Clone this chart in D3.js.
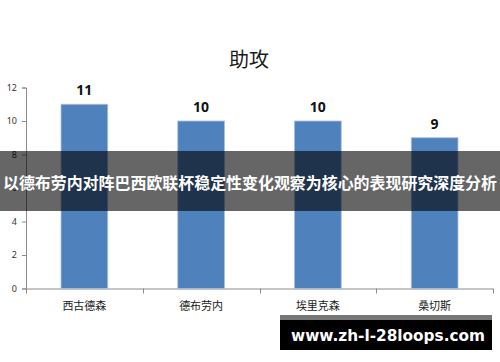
<!DOCTYPE html>
<html>
<head>
<meta charset="utf-8">
<script src="https://cdn.jsdelivr.net/npm/d3@7"></script>
<style>
  html, body { margin: 0; padding: 0; background: #fff; }
  svg { display: block; }
</style>
</head>
<body>
<svg id="chart" width="500" height="362"></svg>
<script>
'use strict';

// Chart values.
const title = '助攻';
const players = ['西古德森', '德布劳内', '埃里克森', '桑切斯'];
const assists = [11, 10, 10, 9];
const yTicks = [0, 2, 4, 6, 8, 10, 12];
const bannerText = '以德布劳内对阵巴西欧联杯稳定性变化观察为核心的表现研究深度分析';
const watermark = 'www.zh-l-28loops.com';

const CJK = '"Noto Sans CJK SC", "Noto Sans", sans-serif';
const NUM = '"Noto Sans", "DejaVu Sans", sans-serif';

const svg = d3.select('#chart');

const plot = {left: 26, right: 493, top: 87.5, bottom: 288.5};

const x = d3
  .scaleBand()
  .domain(players)
  .range([plot.left, plot.right])
  .paddingInner(0.6)
  .paddingOuter(0.3);

// Category boundaries, used for the x axis tick marks.
const step = x.step();
const boundaries = d3.range(players.length + 1).map(i => plot.left + i * step);

const y = d3.scaleLinear().domain([0, 12]).range([plot.bottom, plot.top]);

// Title
svg
  .append('text')
  .attr('x', 249)
  .attr('y', 67)
  .attr('text-anchor', 'middle')
  .style('font-family', CJK)
  .style('font-size', '20px')
  .style('fill', '#1a1a1a')
  .text(title);

// Y axis
const yAxis = svg
  .append('g')
  .attr('transform', `translate(${plot.left},0)`)
  .call(d3.axisLeft(y).tickValues(yTicks).tickSize(4).tickPadding(5));
yAxis.select('.domain').attr('stroke', '#8c8c8c');
yAxis.selectAll('.tick line').attr('stroke', '#8c8c8c');
yAxis
  .selectAll('.tick text')
  .style('font-family', NUM)
  .style('font-size', '9px')
  .style('fill', '#333');

// X axis: line plus ticks between categories
const xAxis = svg.append('g');
xAxis
  .append('line')
  .attr('x1', plot.left)
  .attr('x2', plot.right)
  .attr('y1', y(0) + 0.5)
  .attr('y2', y(0) + 0.5)
  .attr('stroke', '#8c8c8c');
xAxis
  .selectAll('line.tick')
  .data(boundaries)
  .enter()
  .append('line')
  .classed('tick', true)
  .attr('x1', d => Math.round(d) + 0.5)
  .attr('x2', d => Math.round(d) + 0.5)
  .attr('y1', y(0))
  .attr('y2', y(0) + 5)
  .attr('stroke', '#8c8c8c');
xAxis
  .selectAll('text')
  .data(players)
  .enter()
  .append('text')
  .attr('x', d => x(d) + x.bandwidth() / 2)
  .attr('y', 310)
  .attr('text-anchor', 'middle')
  .style('font-family', CJK)
  .style('font-size', '11px')
  .style('fill', '#1a1a1a')
  .text(d => d);

// Bars
const data = players.map((p, i) => ({player: p, value: assists[i]}));
svg
  .selectAll('rect.bar')
  .data(data)
  .enter()
  .append('rect')
  .classed('bar', true)
  .attr('x', d => x(d.player))
  .attr('y', d => y(d.value))
  .attr('width', x.bandwidth())
  .attr('height', d => y(0) - y(d.value))
  .attr('fill', '#4f81bd')
  .attr('stroke', '#a7c0de')
  .attr('stroke-width', 0.8);

// Value labels above the bars
svg
  .selectAll('text.value')
  .data(data)
  .enter()
  .append('text')
  .classed('value', true)
  .attr('x', d => x(d.player) + x.bandwidth() / 2)
  .attr('y', d => y(d.value) - 9)
  .attr('text-anchor', 'middle')
  .style('font-family', NUM)
  .style('font-size', '14px')
  .style('font-weight', 'bold')
  .style('fill', '#111')
  .text(d => d.value);

// Dark translucent banner across the middle
svg
  .append('rect')
  .attr('x', 0)
  .attr('y', 151)
  .attr('width', 500)
  .attr('height', 60)
  .attr('fill', 'rgba(0,0,0,0.6)');
svg
  .append('text')
  .attr('x', 250)
  .attr('y', 189)
  .attr('text-anchor', 'middle')
  .attr('textLength', 494)
  .attr('lengthAdjust', 'spacingAndGlyphs')
  .style('font-family', CJK)
  .style('font-size', '16px')
  .style('font-weight', 'bold')
  .style('fill', '#fff')
  .text(bannerText);

// Watermark box, bottom right
svg
  .append('rect')
  .attr('x', 280)
  .attr('y', 315)
  .attr('width', 212)
  .attr('height', 5)
  .attr('fill', '#777');
svg
  .append('rect')
  .attr('x', 280)
  .attr('y', 320)
  .attr('width', 212)
  .attr('height', 30)
  .attr('fill', '#000');
svg
  .append('text')
  .attr('x', 388)
  .attr('y', 341)
  .attr('text-anchor', 'middle')
  .attr('textLength', 194)
  .attr('lengthAdjust', 'spacingAndGlyphs')
  .style('font-family', '"DejaVu Sans", sans-serif')
  .style('font-size', '16px')
  .style('font-weight', 'bold')
  .style('fill', '#fff')
  .text(watermark);
</script>
</body>
</html>
